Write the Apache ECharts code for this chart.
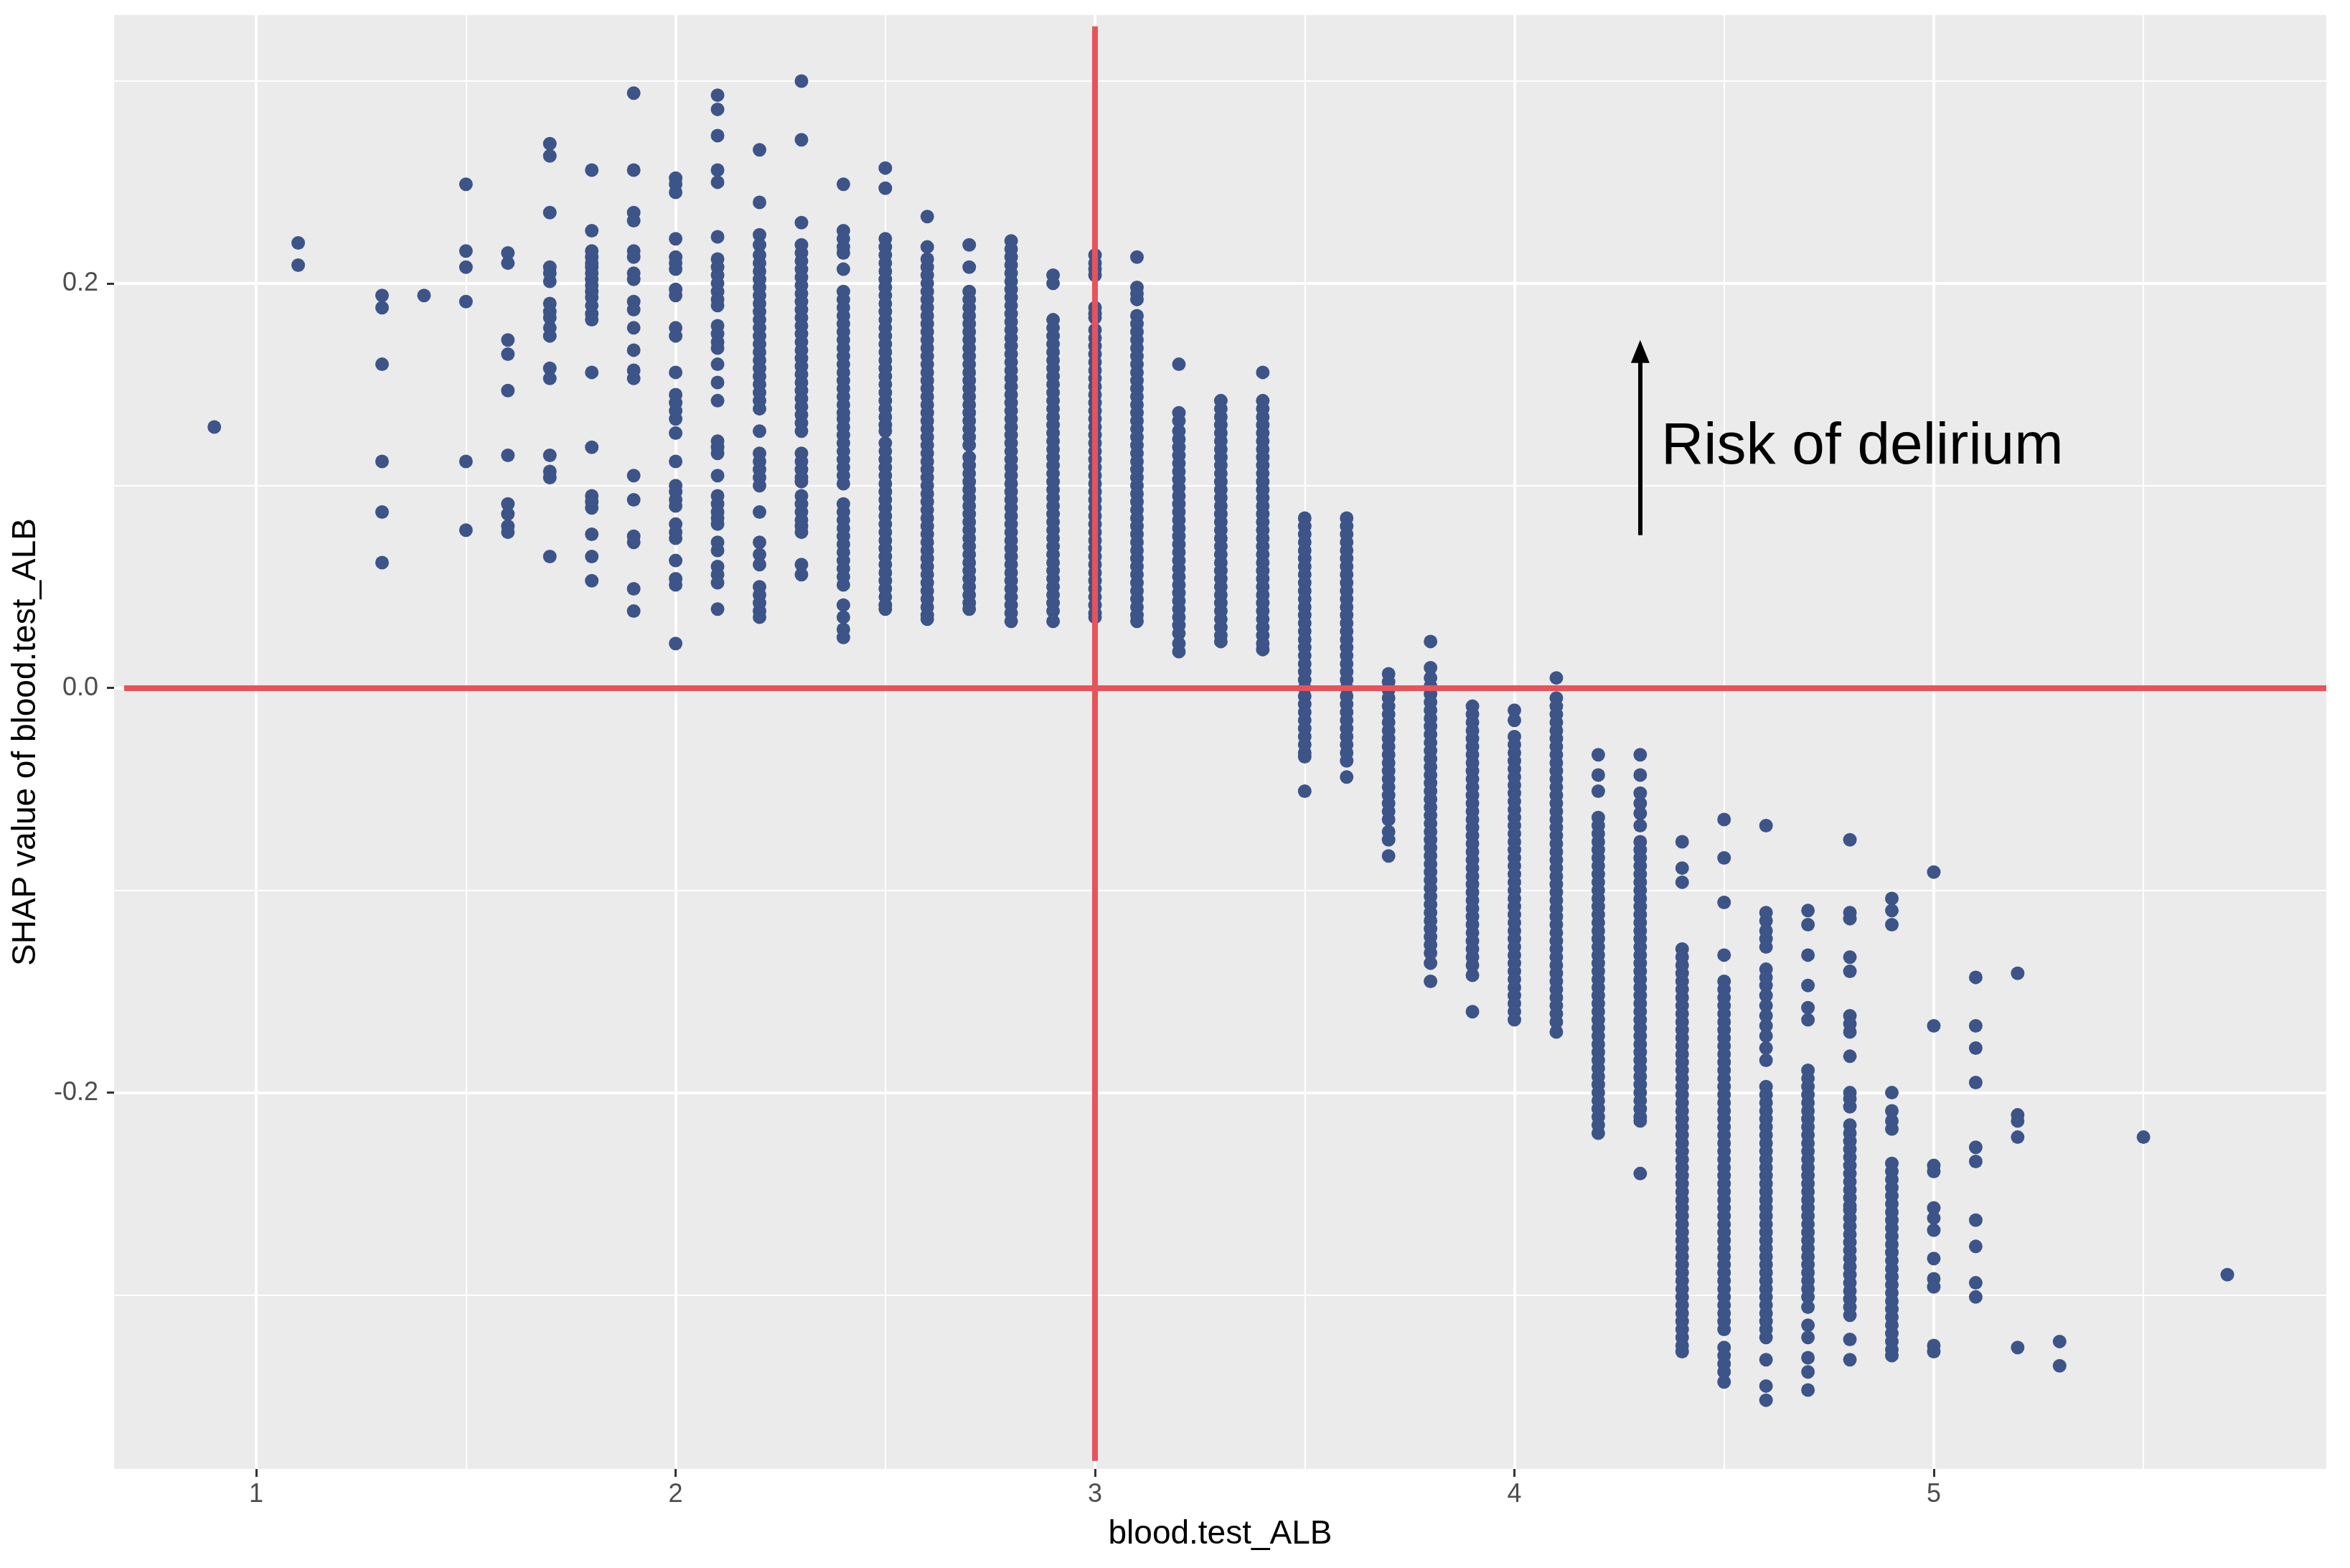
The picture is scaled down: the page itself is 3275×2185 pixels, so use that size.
<!DOCTYPE html>
<html>
<head>
<meta charset="utf-8">
<script src="https://cdn.jsdelivr.net/npm/echarts@6/dist/echarts.min.js"></script>
<style>
  html, body { margin: 0; padding: 0; background: #fff; }
  #chart { width: 3275px; height: 2185px; }
</style>
</head>
<body>
<div id="chart"></div>
<script>
// albumin levels (x) and SHAP values, in thousandths
const albLevels = [0.9, 1.1, 1.3, 1.4, 1.5, 1.6, 1.7, 1.8, 1.9, 2.0, 2.1, 2.2, 2.3, 2.4, 2.5, 2.6, 2.7, 2.8, 2.9, 3.0,
  3.1, 3.2, 3.3, 3.4, 3.5, 3.6, 3.7, 3.8, 3.9, 4.0, 4.1, 4.2, 4.3, 4.4, 4.5, 4.6, 4.7, 4.8, 4.9, 5.0, 5.1, 5.2, 5.3, 5.5, 5.7];

const shapMilli = [
  [129],
  [220, 209],
  [194, 188, 160, 112, 87, 62],
  [194],
  [249, 216, 208, 191, 112, 78],
  [215, 210, 172, 165, 147, 115, 91, 86, 80, 77],
  [269, 263, 235, 208, 205, 201, 190, 186, 183, 178, 174, 158, 153, 115, 107, 104, 65],
  [256, 226, 216, 213, 210, 208, 205, 202, 199, 196, 193, 189, 185, 182, 156, 119, 95, 92, 89, 76, 65, 53],
  [294, 256, 235, 231, 216, 213, 205, 202, 191, 187, 178, 167, 157, 153, 105, 93, 75, 72, 49, 38],
  [252, 249, 245, 222, 213, 210, 207, 197, 194, 178, 174, 156, 145, 141, 137, 133, 126, 112, 100, 97, 93, 90, 81, 77, 74, 63, 54, 51, 22],
  [293, 286, 273, 256, 250, 223, 212, 208, 204, 200, 196, 192, 189, 179, 175, 171, 168, 160, 151, 142, 122, 119, 116, 105,
    95, 91, 87, 84, 81, 72, 68, 60, 56, 52, 39],
  [266, 240, 224, 219, 214, 210, 206, 202, 198, 194, 190, 186, 182, 178, 174, 170, 166, 162, 158, 154, 150, 146, 142, 138,
    127, 116, 112, 108, 104, 100, 87, 72, 66, 61, 50, 46, 42, 38, 35],
  [300, 271, 230, 219, 215, 211, 207, 203, 199, 195, 191, 187, 183, 179, 175, 171, 167, 163, 159, 155, 151, 147, 143, 139,
    135, 131, 127, 116, 112, 108, 104, 102, 95, 91, 87, 83, 80, 77, 61, 56],
  [249, 226, 222, 218, 215, 207, 196, 192, 188, 184, 180, 176, 172, 168, 164, 160, 156, 152, 148, 144, 140, 136, 133,
    129, 125, 121, 117, 113, 109, 105, 101, 91, 87, 83, 79, 75, 71, 67, 63, 59, 55, 51, 41, 35, 29, 25],
  [257, 247, 222, 218, 214, 210, 206, 202, 198, 194, 190, 186, 182, 178, 174, 170, 166, 162, 158, 154, 150, 146, 142, 138,
    134, 130, 127, 121, 117, 113, 109, 105, 101, 97, 93, 89, 85, 81, 77, 73, 69, 65, 61, 57, 53, 49, 45, 41, 39],
  [233, 218, 212, 208, 204, 200, 196, 192, 188, 184, 180, 176, 172, 168, 164, 160, 156, 152, 148, 144, 140, 136, 132, 128,
    124, 120, 116, 112, 108, 104, 100, 96, 92, 88, 84, 80, 76, 72, 68, 64, 60, 56, 52, 48, 44, 40, 36, 34],
  [219, 208, 196, 192, 188, 184, 180, 176, 172, 168, 164, 160, 156, 152, 148, 144, 140, 136, 132, 128, 124, 120,
    114, 110, 106, 102, 98, 94, 90, 86, 82, 78, 74, 70, 66, 62, 58, 54, 50, 46, 42, 39],
  [221, 217, 213, 209, 205, 201, 197, 193, 189, 185, 181, 177, 173, 169, 165, 161, 157, 153, 149, 145, 141, 137, 133, 129,
    125, 121, 117, 113, 109, 105, 101, 97, 93, 89, 85, 81, 77, 73, 69, 65, 61, 57, 53, 49, 45, 41, 37, 33],
  [204, 200, 182, 178, 174, 170, 166, 162, 158, 154, 150, 146, 142, 138, 134, 130, 126, 122, 118, 114, 110, 106, 102, 98,
    94, 90, 86, 82, 78, 74, 70, 66, 62, 58, 54, 50, 46, 42, 38, 33],
  [214, 210, 207, 204, 188, 185, 183, 177, 173, 169, 165, 161, 157, 153, 149, 145, 141, 137, 133, 129, 125, 121, 117, 113,
    109, 105, 101, 97, 93, 89, 85, 81, 77, 73, 69, 65, 61, 57, 53, 49, 45, 41, 37, 35],
  [213, 198, 195, 192, 184, 180, 176, 172, 168, 164, 160, 156, 152, 148, 144, 140, 136, 132, 128, 124, 120, 116, 112, 108,
    104, 100, 96, 92, 88, 84, 80, 76, 72, 68, 64, 60, 56, 52, 48, 44, 40, 36, 33],
  [160, 136, 132, 127, 123, 119, 115, 111, 107, 103, 99, 95, 91, 87, 83, 79, 75, 71, 67, 63, 59, 55, 51, 47, 43, 39, 35,
    31, 27, 22, 18],
  [142, 138, 134, 130, 126, 122, 118, 114, 110, 106, 102, 98, 94, 90, 86, 82, 78, 74, 70, 66, 62, 58, 54, 50, 46, 42, 38,
    34, 30, 26, 23],
  [156, 142, 138, 134, 130, 126, 122, 118, 114, 110, 106, 102, 98, 94, 90, 86, 82, 78, 74, 70, 66, 62, 58, 54, 50, 46, 42,
    38, 34, 30, 26, 22, 19],
  [84, 80, 76, 72, 68, 64, 60, 56, 52, 48, 44, 40, 36, 32, 28, 24, 20, 16, 12, 8, 4, 0, -4, -8, -12, -16, -20, -24, -28,
    -32, -34, -51],
  [84, 80, 76, 72, 68, 64, 60, 56, 52, 48, 44, 40, 36, 32, 28, 24, 20, 16, 12, 8, 4, 0, -4, -8, -12, -16, -20, -24, -28,
    -32, -36, -44],
  [7, 3, -1, -5, -9, -13, -17, -21, -25, -29, -33, -37, -41, -45, -49, -53, -57, -61, -65, -71, -75, -83],
  [23, 10, 5, 1, -3, -7, -11, -15, -19, -23, -27, -31, -35, -39, -43, -47, -51, -55, -59, -63, -67, -71, -75, -79, -83,
    -87, -91, -95, -99, -103, -107, -111, -115, -119, -123, -127, -131, -136, -145],
  [-9, -13, -17, -21, -25, -29, -33, -37, -41, -45, -49, -53, -57, -61, -65, -69, -73, -77, -81, -85, -89, -93, -97, -101,
    -105, -109, -113, -117, -121, -125, -129, -133, -137, -142, -160],
  [-11, -16, -24, -28, -32, -36, -40, -44, -48, -52, -56, -60, -64, -68, -72, -76, -80, -84, -88, -92, -96, -100, -104,
    -108, -112, -116, -120, -124, -128, -132, -136, -140, -144, -148, -152, -156, -160, -164],
  [5, -5, -9, -13, -17, -21, -25, -29, -33, -37, -41, -45, -49, -53, -57, -61, -65, -69, -73, -77, -81, -85, -89, -93,
    -97, -101, -105, -109, -113, -117, -121, -125, -129, -133, -137, -141, -145, -149, -153, -157, -161, -165, -170],
  [-33, -43, -51, -64, -68, -72, -76, -80, -84, -88, -92, -96, -100, -104, -108, -112, -116, -120, -124, -128, -132, -136,
    -140, -144, -148, -152, -156, -160, -164, -168, -172, -176, -180, -184, -188, -192, -196, -200, -204, -208, -212, -216, -220],
  [-33, -43, -52, -57, -62, -68, -76, -80, -84, -88, -92, -96, -100, -104, -108, -112, -116, -120, -124, -128, -132, -136,
    -140, -144, -148, -152, -156, -160, -164, -168, -172, -176, -180, -184, -188, -192, -196, -200, -204, -208, -212, -214, -240],
  [-76, -89, -96, -129, -133, -137, -141, -145, -149, -153, -157, -161, -165, -169, -173, -177, -181, -185, -189, -193,
    -197, -201, -205, -209, -213, -217, -221, -225, -229, -233, -237, -241, -245, -249, -253, -257, -261, -265, -269, -273,
    -277, -281, -285, -289, -293, -297, -301, -305, -309, -313, -317, -321, -325, -328],
  [-65, -84, -106, -132, -145, -149, -153, -157, -161, -165, -169, -173, -177, -181, -185, -189, -193, -197, -201, -205,
    -209, -213, -217, -221, -225, -229, -233, -237, -241, -245, -249, -253, -257, -261, -265, -269, -273, -277, -281, -285,
    -289, -293, -297, -301, -305, -309, -313, -317, -326, -330, -334, -338, -343],
  [-68, -111, -115, -120, -124, -128, -139, -143, -147, -152, -157, -162, -167, -172, -178, -184, -197, -201, -205, -209,
    -213, -217, -221, -225, -229, -233, -237, -241, -245, -249, -253, -257, -261, -265, -269, -273, -277, -281, -285, -289,
    -293, -297, -301, -305, -309, -313, -317, -321, -332, -345, -352],
  [-110, -117, -132, -147, -158, -164, -189, -193, -197, -201, -205, -209, -213, -217, -221, -225, -229, -233, -237, -241,
    -245, -249, -253, -257, -261, -265, -269, -273, -277, -281, -285, -289, -293, -297, -301, -306, -315, -321, -331, -338, -347],
  [-75, -111, -114, -133, -140, -162, -166, -170, -182, -200, -203, -207, -216, -220, -224, -228, -232, -236, -240, -244,
    -248, -252, -256, -258, -262, -266, -270, -274, -278, -282, -286, -290, -294, -298, -302, -306, -310, -322, -332],
  [-104, -110, -117, -200, -209, -214, -218, -235, -239, -243, -247, -251, -255, -259, -263, -267, -271, -275, -279, -283,
    -287, -291, -295, -299, -303, -307, -311, -315, -319, -323, -327, -330],
  [-91, -167, -236, -239, -257, -262, -268, -282, -292, -296, -325, -328],
  [-143, -167, -178, -195, -227, -234, -263, -276, -294, -301],
  [-141, -211, -214, -222, -326],
  [-323, -335],
  [-222],
  [-290]
];

const xTicks = [1, 2, 3, 4, 5];
const xMinor = [1.5, 2.5, 3.5, 4.5, 5.5];
const yTicks = [-0.2, 0, 0.2];
const yMinor = [-0.3, -0.1, 0.1, 0.3];

// reference lines and the annotation arrow
const refX = 3;
const refY = 0;
const arrowX = 4.3;
const arrowFrom = 0.0755;
const arrowTo = 0.1663;

const points = [];
albLevels.forEach((x, i) => {
  shapMilli[i].forEach(v => points.push([x, v / 1000]));
});

const FONT = "'Liberation Sans', Arial, sans-serif";
const xMin = 0.661, xMax = 5.936;
const yMin = -0.386, yMax = 0.3326;

const chart = echarts.init(document.getElementById('chart'));

const option = {
  animation: false,
  backgroundColor: '#ffffff',
  textStyle: { fontFamily: FONT },
  grid: {
    show: true,
    left: 159,
    right: 33,
    top: 21,
    bottom: 138,
    backgroundColor: '#EBEBEB',
    borderWidth: 0
  },
  xAxis: [
    {
      type: 'value',
      min: xMin,
      max: xMax,
      name: 'blood.test_ALB',
      nameLocation: 'middle',
      nameGap: 68,
      nameTextStyle: { fontSize: 46, color: '#000', fontFamily: FONT },
      axisLine: { show: false, onZero: false },
      axisTick: { show: true, length: 11, customValues: xTicks, lineStyle: { color: '#333333', width: 3 } },
      axisLabel: { customValues: xTicks, fontSize: 36, color: '#4D4D4D', margin: 18, fontFamily: FONT },
      splitLine: { show: true, lineStyle: { color: '#ffffff', width: 4 } }
    },
    {
      type: 'value',
      min: xMin,
      max: xMax,
      position: 'bottom',
      axisLine: { show: false, onZero: false },
      axisTick: { show: false, customValues: xMinor },
      axisLabel: { show: false },
      splitLine: { show: true, lineStyle: { color: '#ffffff', width: 2 } }
    }
  ],
  yAxis: [
    {
      type: 'value',
      min: yMin,
      max: yMax,
      name: 'SHAP value of blood.test_ALB',
      nameLocation: 'middle',
      nameGap: 100,
      nameTextStyle: { fontSize: 46, color: '#000', fontFamily: FONT },
      axisLine: { show: false, onZero: false },
      axisTick: { show: true, length: 10, customValues: yTicks, lineStyle: { color: '#333333', width: 3 } },
      axisLabel: {
        customValues: yTicks,
        fontSize: 36,
        color: '#4D4D4D',
        margin: 22,
        fontFamily: FONT,
        formatter: v => v.toFixed(1)
      },
      splitLine: { show: true, lineStyle: { color: '#ffffff', width: 4 } }
    },
    {
      type: 'value',
      min: yMin,
      max: yMax,
      position: 'left',
      axisLine: { show: false, onZero: false },
      axisTick: { show: false, customValues: yMinor },
      axisLabel: { show: false },
      splitLine: { show: true, lineStyle: { color: '#ffffff', width: 2 } }
    }
  ],
  series: [
    {
      name: 'SHAP',
      type: 'scatter',
      xAxisIndex: 0,
      yAxisIndex: 0,
      clip: false,
      symbol: 'circle',
      symbolSize: 19,
      itemStyle: { color: '#3C5488', opacity: 1 },
      emphasis: { disabled: true },
      data: points,
      markLine: {
        silent: true,
        symbol: 'none',
        label: { show: false },
        emphasis: { disabled: true },
        lineStyle: { color: '#E8525A', width: 8, type: 'solid' },
        data: [
          [{ coord: [refX, 0.327] }, { coord: [refX, -0.382] }],
          [{ coord: [0.685, refY] }, { coord: [xMax, refY] }],
          [
            { coord: [arrowX, arrowFrom], symbol: 'none', lineStyle: { color: '#000', width: 6 } },
            { coord: [arrowX, arrowTo], symbol: 'triangle', symbolSize: [26, 32] }
          ]
        ]
      },
      markPoint: {
        silent: true,
        symbol: 'circle',
        symbolSize: 0,
        data: [
          {
            coord: [4.35, 0.119],
            label: {
              show: true,
              position: 'right',
              distance: 0,
              formatter: 'Risk of delirium',
              fontSize: 82,
              color: '#000000',
              fontFamily: FONT
            }
          }
        ]
      }
    }
  ]
};

chart.setOption(option);
</script>
</body>
</html>
